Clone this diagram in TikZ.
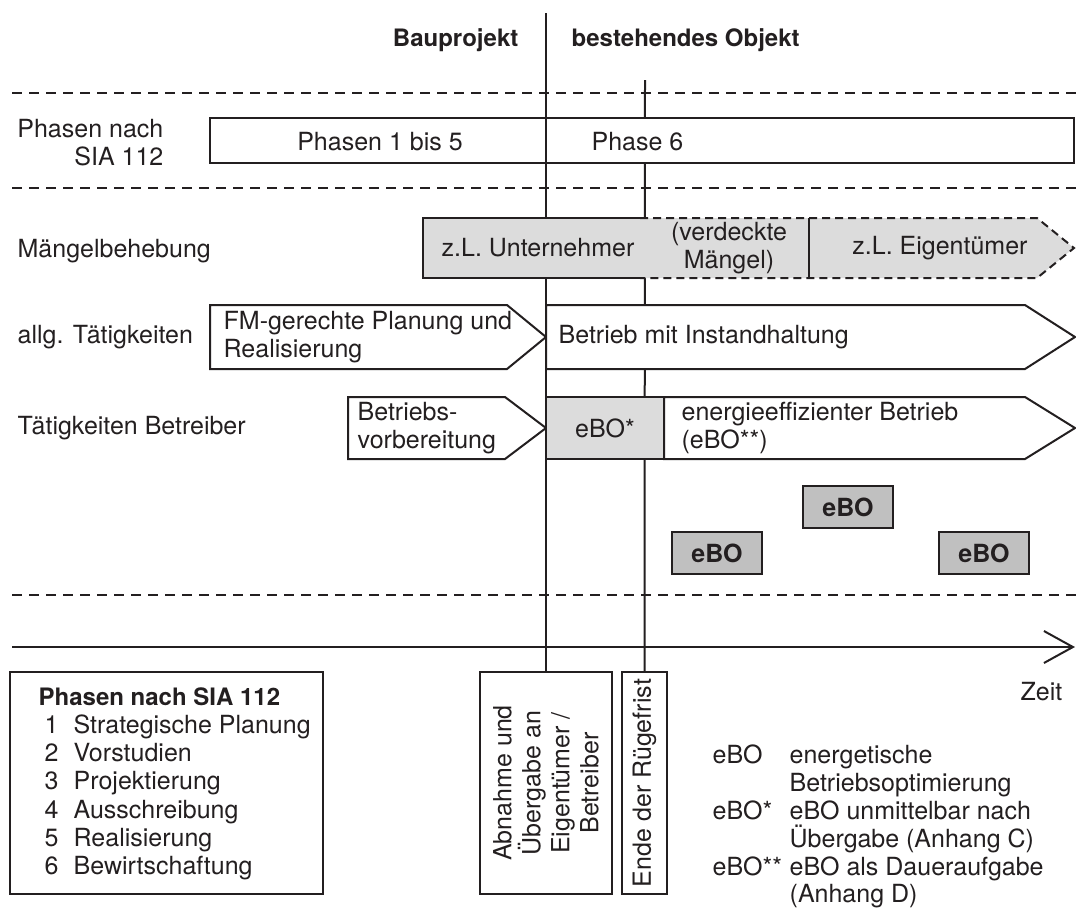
\documentclass[tikz,border=0pt]{standalone}
\usepackage{fontspec}
\setmainfont{TeX Gyre Heros}
\usetikzlibrary{arrows.meta}
\definecolor{ink}{HTML}{231F20}
\definecolor{grey}{HTML}{DCDCDC}
\definecolor{darkgrey}{HTML}{C0C0C0}

\begin{document}
\begin{tikzpicture}[x=0.5pt,y=-0.5pt,line width=1pt,color=ink,
    font=\fontsize{12.5}{14}\selectfont,
    sep/.style={dash pattern=on 5pt off 3.5pt,line width=0.8pt},
    open/.style={dash pattern=on 4pt off 2.5pt},
    bold/.style={font=\fontsize{12}{14}\selectfont\bfseries},
    ebo/.style={draw,fill=darkgrey,line width=1.4pt,minimum width=45pt,
      minimum height=21pt,font=\fontsize{12.5}{14}\selectfont\bfseries}]
    \useasboundingbox (0,0) rectangle (1076,907);
    % headings
    \node [anchor=east,bold] (bau) at (526,40) {Bauprojekt};
    \node [anchor=west,bold] (obj) at (564,40) {bestehendes Objekt};
    \draw [sep] (12,93) -- (1076,93);
    \draw [sep] (12,188) -- (1076,188);
    \draw [sep] (12,595) -- (1076,595);
    % boxes at the bottom
    \node [draw,minimum width=156.5pt,minimum height=111pt] (leg) at (166.5,783) {};
    \node [draw,minimum width=66pt,minimum height=111pt] (abn) at (546,783) {};
    \node [draw,minimum width=22.5pt,minimum height=111pt] (ende) at (644.5,783) {};
    \node [rotate=90,align=center,font=\fontsize{12.5}{14.5}\selectfont] (abntxt) at (abn.center) {Abnahme und\\Übergabe an\\Eigentümer /\\Betreiber};
    \node [rotate=90] (endetxt) at (ende.center) {Ende der Rügefrist};
    % time lines
    \coordinate (atop) at (546,13);
    \coordinate (btop) at (645,80);
    \draw (btop) -- (ende.north);
    % SIA phases
    \node [anchor=base east] (sia1) at (171,137) {Phasen nach};
    \node [anchor=base east] (sia2) at (171,165) {SIA 112};
    \draw [fill=white] (210,118) rectangle (1074,163);
    \node [anchor=base] (ph15) at (380,150) {Phasen 1 bis 5};
    \node [anchor=base west] (ph6) at (584,150) {Phase 6};
    \draw (atop) -- (abn.north);
    % Maengelbehebung
    \node [anchor=base west] (mb) at (10,257) {Mängelbehebung};
    \fill [grey] (423,218) -- (1037,218) -- (1074,248) -- (1037,278) -- (423,278) -- cycle;
    \draw (640,218) -- (423,218) -- (423,278) -- (640,278);
    \draw [open] (640,218) -- (1037,218) -- (1074,248) -- (1037,278) -- (640,278);
    \draw (809,218) -- (809,278);
    \node (unt) at (538,248) {z.L. Unternehmer};
    \node [align=center] (verd) at (729,248) {(verdeckte\\Mängel)};
    \node (eig) at (940,248) {z.L. Eigentümer};
    % allgemeine Taetigkeiten
    \node [anchor=west] (allg) at (10,337) {allg. Tätigkeiten};
    \draw [fill=white] (210,305) -- (507,305) -- (546,337) -- (507,369) -- (210,369) -- cycle;
    \draw [fill=white] (546,305) -- (1025,305) -- (1075,337) -- (1025,369) -- (546,369) -- cycle;
    \node [anchor=west,align=left] (fm) at (216,337) {FM-gerechte Planung und\\Realisierung};
    \node [anchor=west] (betr) at (551,337) {Betrieb mit Instandhaltung};
    % Taetigkeiten Betreiber
    \node [anchor=west] (tb) at (10,428) {Tätigkeiten Betreiber};
    \draw [fill=white] (348,397) -- (505,397) -- (546,428) -- (505,459) -- (348,459) -- cycle;
    \draw [fill=grey] (546,397) rectangle (664,459);
    \draw [fill=white] (664,397) -- (1025,397) -- (1075,428) -- (1025,459) -- (664,459) -- cycle;
    \node [anchor=west,align=left] (vorb) at (350,428) {Betriebs-\\vorbereitung};
    \node (ebostar) at (605,428) {eBO*};
    \node [anchor=west,align=left] (eff) at (674,428) {energieeffizienter Betrieb\\(eBO**)};
    % eBO
    \node [ebo] (ebo1) at (717,553) {eBO};
    \node [ebo] (ebo2) at (848,507) {eBO};
    \node [ebo] (ebo3) at (984,553) {eBO};
    % time axis
    \coordinate (t0) at (12,647);
    \coordinate (t1) at (1075,647);
    \draw [-{Straight Barb[length=14.5pt,width=16pt]}] (t0) -- (t1);
    \node [anchor=base east] (zeit) at (1070,700) {Zeit};
    % legend SIA 112
    \node [anchor=base west,bold] (legtitle) at (31,705) {Phasen nach SIA 112};
    \foreach \t [count=\i] in {Strategische Planung,Vorstudien,Projektierung,Ausschreibung,Realisierung,Bewirtschaftung} {
      \node [anchor=base west] (n\i) at (37,{705+28.3*\i}) {\i};
      \node [anchor=base west] (p\i) at (66,{705+28.3*\i}) {\t};
    }
    % legend eBO
    \node [anchor=base west] (k1) at (705,763) {eBO};
    \node [anchor=base west] (k2) at (705,819) {eBO*};
    \node [anchor=base west] (k3) at (705,875) {eBO**};
    \node [anchor=base west] (d1) at (782,763) {energetische};
    \node [anchor=base west] (d2) at (782,791) {Betriebsoptimierung};
    \node [anchor=base west] (d3) at (782,819) {eBO unmittelbar nach};
    \node [anchor=base west] (d4) at (782,847) {Übergabe (Anhang C)};
    \node [anchor=base west] (d5) at (782,875) {eBO als Daueraufgabe};
    \node [anchor=base west] (d6) at (782,902) {(Anhang D)};
\end{tikzpicture}
\end{document}
